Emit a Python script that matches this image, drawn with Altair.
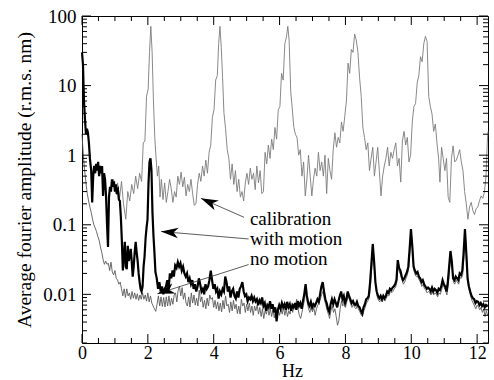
import math
import altair as alt
import pandas as pd

# ---------------- data ----------------
cal_hz = [
    0.90, 0.96, 1.02, 1.08, 1.14, 1.20, 1.26, 1.33, 1.39, 1.45,
    1.51, 1.57, 1.63, 1.69, 1.75, 1.81, 1.86, 1.91, 1.96, 2.01,
    2.05, 2.09, 2.13, 2.17, 2.21, 2.25, 2.29, 2.33, 2.37, 2.41,
    2.46, 2.51, 2.56, 2.61, 2.66, 2.71, 2.76, 2.81, 2.86, 2.91,
    2.96, 3.01, 3.06, 3.11, 3.16, 3.21, 3.26, 3.31, 3.36, 3.41,
    3.46, 3.51, 3.56, 3.61, 3.66, 3.71, 3.76, 3.81, 3.86, 3.91,
    3.96, 4.01, 4.06, 4.11, 4.15, 4.19, 4.23, 4.27, 4.31, 4.36,
    4.41, 4.46, 4.51, 4.56, 4.61, 4.66, 4.71, 4.76, 4.81, 4.86,
    4.91, 4.96, 5.01, 5.06, 5.11, 5.16, 5.21, 5.26, 5.31, 5.36,
    5.41, 5.46, 5.51, 5.56, 5.61, 5.66, 5.71, 5.76, 5.81, 5.86,
    5.91, 5.96, 6.01, 6.06, 6.11, 6.16, 6.21, 6.25, 6.29, 6.34,
    6.38, 6.43, 6.48, 6.53, 6.58, 6.63, 6.68, 6.73, 6.78, 6.83,
    6.88, 6.93, 6.98, 7.03, 7.08, 7.13, 7.18, 7.23, 7.28, 7.33,
    7.38, 7.43, 7.48, 7.53, 7.58, 7.63, 7.68, 7.73, 7.78, 7.83,
    7.88, 7.93, 7.98, 8.03, 8.08, 8.13, 8.18, 8.23, 8.28, 8.33,
    8.38, 8.43, 8.48, 8.53, 8.58, 8.63, 8.68, 8.73, 8.78, 8.83,
    8.88, 8.93, 8.98, 9.03, 9.08, 9.13, 9.18, 9.23, 9.28, 9.33,
    9.38, 9.43, 9.48, 9.53, 9.58, 9.63, 9.68, 9.73, 9.78, 9.83,
    9.88, 9.93, 9.98, 10.03, 10.08, 10.13, 10.18, 10.23, 10.28, 10.33,
    10.38, 10.43, 10.48, 10.53, 10.58, 10.63, 10.68, 10.73, 10.78, 10.83,
    10.87, 10.92, 10.97, 11.02, 11.07, 11.12, 11.17, 11.22, 11.27, 11.32,
    11.37, 11.42, 11.47, 11.52, 11.57, 11.62, 11.67, 11.72, 11.77, 11.82,
    11.87, 11.92, 11.97, 12.02, 12.07, 12.12, 12.17, 12.22, 12.27, 12.31,
    12.33,
]
cal_amp = [
    0.35, 0.45, 0.28, 0.40, 0.24, 0.42, 0.20, 0.12, 0.30, 0.22,
    0.38, 0.28, 0.50, 0.33, 0.55, 0.42, 1.5, 1.6, 7, 9,
    30, 71, 30, 6, 1.8, 0.9, 0.5, 0.7, 0.25, 0.45,
    0.23, 0.40, 0.21, 0.30, 0.45, 0.33, 0.21, 0.30, 0.25, 0.50,
    0.38, 0.57, 0.35, 0.48, 0.26, 0.38, 0.30, 0.45, 0.28, 0.19,
    0.20, 0.38, 0.55, 0.42, 0.70, 0.50, 0.85, 0.55, 1.1, 1.4,
    3.5, 4.5, 12, 14, 40, 71, 35, 13, 4.1, 2.4,
    1.2, 0.9, 0.45, 0.75, 0.38, 0.60, 0.30, 0.45, 0.25, 0.30,
    0.22, 0.40, 0.55, 0.38, 0.65, 0.45, 0.55, 0.32, 0.70, 0.40,
    0.60, 0.28, 0.30, 1.1, 0.75, 1.4, 0.9, 1.7, 1.2, 2.5,
    1.7, 4.5, 5, 15, 12, 40, 50, 71, 45, 8,
    5, 2.6, 2.0, 1.8, 1.0, 1.2, 0.5, 0.8, 0.26, 0.45,
    1.0, 0.5, 0.26, 0.45, 0.65, 0.5, 1.1, 0.6, 0.8, 0.5,
    1.0, 0.28, 0.9, 0.6, 0.45, 1.2, 2.1, 1.3, 1.8, 1.5,
    3.0, 2.2, 3.6, 6, 21, 15, 33, 30, 55, 45,
    30, 13, 7, 2.5, 1.8, 1.2, 1.5, 0.6, 0.9, 1.3,
    0.5, 0.8, 1.3, 0.6, 0.26, 0.5, 0.7, 0.9, 1.3, 0.7,
    1.1, 0.9, 1.2, 1.5, 0.7, 0.9, 0.41, 1.6, 2.2, 1.4,
    1.8, 0.8, 1.0, 3, 5, 5.5, 11, 14, 26, 22,
    40, 51, 43, 7, 5, 3.9, 2.2, 2.8, 1.5, 0.9,
    0.41, 1.3, 0.9, 0.6, 0.9, 0.25, 0.21, 0.9, 1.36, 0.8,
    0.85, 1.0, 1.2, 0.8, 0.6, 0.3, 0.2, 0.12, 0.18, 0.21,
    0.16, 0.14, 0.17, 0.18, 0.22, 0.26, 0.24, 0.29, 0.5, 1.6,
    2.2,
]

# "with motion": irregular low-frequency part, then a 0.04 Hz grid from 2.27 Hz
wm_hz_low = [
    0.00, 0.03, 0.06, 0.09, 0.12, 0.15, 0.18, 0.21, 0.24, 0.28,
    0.31, 0.34, 0.37, 0.40, 0.43, 0.46, 0.49, 0.52, 0.55, 0.58,
    0.61, 0.64, 0.67, 0.70, 0.73, 0.76, 0.79, 0.82, 0.85, 0.88,
    0.91, 0.94, 0.97, 1.00, 1.03, 1.06, 1.09, 1.12, 1.15, 1.18,
    1.21, 1.24, 1.27, 1.30, 1.33, 1.36, 1.39, 1.42, 1.45, 1.48,
    1.51, 1.54, 1.57, 1.60, 1.63, 1.66, 1.69, 1.72, 1.75, 1.78,
    1.81, 1.84, 1.87, 1.90, 1.93, 1.96, 1.99, 2.02, 2.05, 2.08,
    2.11, 2.14, 2.17, 2.20, 2.23,
]
wm_amp_low = [
    30, 20, 6, 3.3, 2.0, 2.4, 2.1, 1.5, 0.9, 0.6,
    0.21, 0.5, 0.7, 0.55, 0.75, 0.6, 0.8, 0.5, 0.7, 0.55,
    0.7, 0.26, 0.55, 0.45, 0.26, 0.1, 0.048, 0.25, 0.35, 0.3,
    0.45, 0.35, 0.42, 0.3, 0.38, 0.3, 0.32, 0.23, 0.22, 0.13,
    0.06, 0.022, 0.035, 0.057, 0.025, 0.023, 0.05, 0.03, 0.036, 0.045,
    0.03, 0.018, 0.025, 0.04, 0.057, 0.04, 0.03, 0.02, 0.015, 0.012,
    0.011, 0.013, 0.025, 0.035, 0.063, 0.09, 0.12, 0.4, 0.8, 0.9,
    0.6, 0.15, 0.07, 0.04, 0.021,
]
wm_grid_start = 2.27
wm_grid_step = 0.04
wm_amp_grid = [
    0.017, 0.012, 0.015, 0.011, 0.013, 0.010, 0.012, 0.013, 0.016, 0.012,
    0.020, 0.017, 0.022, 0.018, 0.026, 0.024, 0.029, 0.025, 0.028, 0.022,
    0.025, 0.020, 0.018, 0.020, 0.015, 0.017, 0.014, 0.016, 0.012, 0.014,
    0.011, 0.013, 0.017, 0.014, 0.011, 0.012, 0.010, 0.014, 0.012, 0.013,
    0.016, 0.022, 0.016, 0.012, 0.014, 0.011, 0.012, 0.0087, 0.011, 0.010,
    0.012, 0.011, 0.018, 0.015, 0.011, 0.013, 0.009, 0.011, 0.012, 0.0095,
    0.0087, 0.011, 0.009, 0.012, 0.013, 0.015, 0.011, 0.0095, 0.010, 0.008,
    0.009, 0.0085, 0.0095, 0.008, 0.009, 0.0079, 0.0085, 0.007, 0.0082, 0.0075,
    0.009, 0.0068, 0.0075, 0.0058, 0.007, 0.0065, 0.008, 0.0062, 0.0072, 0.0055,
    0.0065, 0.0041, 0.006, 0.007, 0.0062, 0.0075, 0.0065, 0.0072, 0.006, 0.0078,
    0.0065, 0.0072, 0.0058, 0.007, 0.0065, 0.0075, 0.006, 0.008, 0.0068, 0.0075,
    0.0062, 0.008, 0.010, 0.014, 0.0095, 0.0075, 0.0068, 0.0078, 0.0065, 0.0072,
    0.0068, 0.0075, 0.0085, 0.0078, 0.010, 0.013, 0.015, 0.011, 0.0085, 0.0075,
    0.0062, 0.0056, 0.0072, 0.0085, 0.0072, 0.0085, 0.0075, 0.0065, 0.008, 0.0095,
    0.011, 0.0085, 0.0095, 0.0075, 0.0085, 0.011, 0.0095, 0.0085, 0.0075, 0.008,
    0.0072, 0.007, 0.0078, 0.0068, 0.0065, 0.0058, 0.0053, 0.0065, 0.0072, 0.0085,
    0.0088, 0.0095, 0.015, 0.028, 0.053, 0.030, 0.015, 0.011, 0.0095, 0.0088,
    0.0095, 0.0085, 0.0095, 0.0088, 0.0095, 0.011, 0.0105, 0.012, 0.0115, 0.0125,
    0.013, 0.014, 0.016, 0.031, 0.024, 0.022, 0.018, 0.016, 0.017, 0.019,
    0.021, 0.025, 0.045, 0.087, 0.050, 0.025, 0.022, 0.020, 0.021, 0.018,
    0.017, 0.015, 0.016, 0.014, 0.013, 0.012, 0.0125, 0.012, 0.011, 0.0125,
    0.011, 0.012, 0.0115, 0.0105, 0.012, 0.0115, 0.013, 0.016, 0.014, 0.013,
    0.011, 0.015, 0.025, 0.042, 0.030, 0.017, 0.016, 0.018, 0.017, 0.016,
    0.020, 0.019, 0.022, 0.040, 0.087, 0.040, 0.017, 0.013, 0.011, 0.0095,
    0.0088, 0.0085, 0.0075, 0.008, 0.0078, 0.007, 0.0075, 0.0068, 0.0072, 0.0065,
    0.007, 0.0066,
]

# "no motion": 0.04 Hz grid from 0 Hz
nm_grid_start = 0.0
nm_grid_step = 0.04
nm_amp = [
    2.0, 1.0, 0.6, 0.4, 0.28, 0.22, 0.18, 0.15, 0.12, 0.10,
    0.09, 0.08, 0.068, 0.06, 0.048, 0.04, 0.032, 0.027, 0.03, 0.027,
    0.028, 0.022, 0.029, 0.021, 0.019, 0.022, 0.017, 0.016, 0.014, 0.015,
    0.012, 0.0095, 0.012, 0.009, 0.012, 0.0095, 0.0105, 0.0085, 0.011, 0.0088,
    0.0105, 0.0085, 0.0102, 0.0082, 0.0098, 0.0085, 0.0105, 0.0085, 0.0098, 0.008,
    0.0105, 0.0078, 0.0095, 0.0075, 0.0068, 0.0062, 0.0057, 0.0072, 0.0095, 0.0068,
    0.0092, 0.0067, 0.009, 0.0066, 0.0092, 0.0068, 0.0095, 0.0069, 0.0088, 0.0072,
    0.0098, 0.0105, 0.0078, 0.0115, 0.013, 0.0095, 0.0125, 0.0085, 0.0105, 0.0075,
    0.0068, 0.0092, 0.0066, 0.0105, 0.0075, 0.0098, 0.007, 0.0088, 0.0068, 0.0115,
    0.0078, 0.0092, 0.0065, 0.0082, 0.0062, 0.0088, 0.0068, 0.0098, 0.0085, 0.009,
    0.0065, 0.0082, 0.0062, 0.0078, 0.0058, 0.0075, 0.0056, 0.0082, 0.0062, 0.0095,
    0.0068, 0.0072, 0.0055, 0.0078, 0.0058, 0.0082, 0.0062, 0.0072, 0.0053, 0.0068,
    0.0052, 0.0085, 0.0068, 0.0075, 0.0055, 0.0072, 0.0058, 0.0075, 0.0055, 0.0068,
    0.005, 0.0068, 0.0058, 0.007, 0.0052, 0.0065, 0.0048, 0.0062, 0.0045, 0.0058,
    0.0052, 0.0065, 0.005, 0.0062, 0.0048, 0.006, 0.0046, 0.0056, 0.0048, 0.0058,
    0.005, 0.0062, 0.0052, 0.0065, 0.005, 0.0062, 0.0048, 0.0058, 0.0052, 0.0065,
    0.0055, 0.0072, 0.0068, 0.0085, 0.0062, 0.005, 0.0045, 0.0055, 0.0068, 0.0085,
    0.011, 0.0078, 0.0062, 0.0055, 0.0068, 0.0056, 0.0065, 0.005, 0.0062, 0.007,
    0.0075, 0.0085, 0.010, 0.011, 0.0085, 0.0072, 0.006, 0.0052, 0.0045, 0.0058,
    0.0068, 0.0055, 0.0062, 0.0048, 0.0036, 0.0042, 0.0062, 0.008, 0.0068, 0.0085,
    0.0065, 0.0078, 0.0092, 0.0085, 0.0072, 0.0065, 0.0072, 0.0065, 0.0062, 0.0068,
    0.006, 0.0056, 0.005, 0.0048, 0.0058, 0.0065, 0.0075, 0.008, 0.0088, 0.013,
    0.024, 0.045, 0.026, 0.013, 0.0095, 0.0082, 0.0078, 0.0085, 0.0078, 0.0088,
    0.008, 0.0088, 0.0098, 0.0095, 0.011, 0.0105, 0.011, 0.012, 0.0125, 0.015,
    0.027, 0.021, 0.019, 0.016, 0.014, 0.015, 0.017, 0.019, 0.023, 0.042,
    0.075, 0.045, 0.022, 0.019, 0.018, 0.018, 0.016, 0.015, 0.013, 0.014,
    0.012, 0.0115, 0.0105, 0.011, 0.0105, 0.0098, 0.011, 0.0098, 0.0105, 0.010,
    0.0092, 0.0105, 0.010, 0.0115, 0.014, 0.0125, 0.0115, 0.0098, 0.013, 0.022,
    0.037, 0.026, 0.015, 0.014, 0.016, 0.015, 0.014, 0.0175, 0.017, 0.019,
    0.035, 0.075, 0.035, 0.015, 0.0115, 0.0095, 0.0082, 0.0075, 0.0068, 0.0062,
    0.007, 0.0066, 0.006, 0.0065, 0.0055, 0.0062, 0.0048, 0.0058, 0.005,
]

# annotations
ann_labels = ["calibration", "with motion", "no motion"]
ann_text_hz = [5.10, 5.10, 5.10]
ann_text_amp = [0.100, 0.052, 0.0268]
ann_tail_hz = [4.92, 5.06, 5.06]
ann_tail_amp = [0.128, 0.0625, 0.0268]
ann_tip_hz = [3.61, 2.40, 2.29]
ann_tip_amp = [0.24, 0.080, 0.0102]

# axis ticks
x_major = [0, 2, 4, 6, 8, 10, 12]
x_minor = [0.5, 1, 1.5, 2.5, 3, 3.5, 4.5, 5, 5.5, 6.5, 7, 7.5, 8.5, 9, 9.5,
           10.5, 11, 11.5]
y_major = [0.01, 0.1, 1, 10, 100]
y_minor = [0.002, 0.003, 0.004, 0.005, 0.006, 0.007, 0.008, 0.009,
           0.02, 0.03, 0.04, 0.05, 0.06, 0.07, 0.08, 0.09,
           0.2, 0.3, 0.4, 0.5, 0.6, 0.7, 0.8, 0.9,
           2, 3, 4, 5, 6, 7, 8, 9,
           20, 30, 40, 50, 60, 70, 80, 90]

# ---------------- chart ----------------
W, H = 406, 327
X_DOMAIN = [0, 12.33]
Y_DOMAIN = [0.002, 100]
FONT = "Liberation Serif"

xs = alt.Scale(domain=X_DOMAIN, nice=False, zero=False)
ys = alt.Scale(type="log", domain=Y_DOMAIN, nice=False)

wm_hz = wm_hz_low + [round(wm_grid_start + wm_grid_step * i, 2) for i in range(len(wm_amp_grid))]
wm_amp = wm_amp_low + wm_amp_grid
nm_hz = [round(nm_grid_start + nm_grid_step * i, 2) for i in range(len(nm_amp))]

cal_df = pd.DataFrame({"hz": cal_hz, "amp": cal_amp})
wm_df = pd.DataFrame({"hz": wm_hz, "amp": wm_amp})
nm_df = pd.DataFrame({"hz": nm_hz, "amp": nm_amp})


def px(hz):
    return (hz - X_DOMAIN[0]) / (X_DOMAIN[1] - X_DOMAIN[0]) * W


def py(a):
    l0, l1 = math.log10(Y_DOMAIN[0]), math.log10(Y_DOMAIN[1])
    return H * (1 - (math.log10(a) - l0) / (l1 - l0))


angles = [math.degrees(math.atan2(py(ty) - py(sy), px(tx) - px(sx))) % 360
          for sx, sy, tx, ty in zip(ann_tail_hz, ann_tail_amp, ann_tip_hz, ann_tip_amp)]

ann_df = pd.DataFrame({
    "label": ann_labels, "thz": ann_text_hz, "tamp": ann_text_amp,
    "shz": ann_tail_hz, "samp": ann_tail_amp,
    "hhz": ann_tip_hz, "hamp": ann_tip_amp, "ang": angles,
})

x_axis = alt.Axis(values=x_major, ticks=False, domain=False, grid=False,
                  labelFont=FONT, labelFontSize=18, labelColor="black",
                  labelPadding=1, labelFlush=False, format="d",
                  title="Hz", titleFont=FONT, titleFontSize=18,
                  titleFontWeight="normal", titleColor="black", titlePadding=0,
                  titleX=210, titleAlign="center")
y_axis = alt.Axis(values=y_major, ticks=False, domain=False, grid=False,
                  labelFont=FONT, labelFontSize=19, labelColor="black",
                  labelPadding=6, labelFlush=False, format="~g",
                  title="Average fourier amplitude (r.m.s. nm)",
                  titleFont=FONT, titleFontSize=19.5, titleFontWeight="normal",
                  titleColor="black", titlePadding=8)


def X(field):
    return alt.X(field, scale=xs, axis=x_axis)


def Y(field):
    return alt.Y(field, scale=ys, axis=y_axis)


cal_line = alt.Chart(cal_df).mark_line(color="#7c7c7c", strokeWidth=0.9).encode(
    x=X("hz:Q"), y=Y("amp:Q"))
nm_line = alt.Chart(nm_df).mark_line(color="#5a5a5a", strokeWidth=0.9).encode(
    x=X("hz:Q"), y=Y("amp:Q"))
wm_line = alt.Chart(wm_df).mark_line(color="black", strokeWidth=2.2).encode(
    x=X("hz:Q"), y=Y("amp:Q"))


def x_ticks(vals, length, top):
    df = pd.DataFrame({"hz": vals})
    y0, y1 = (0, length) if top else (H, H - length)
    return alt.Chart(df).mark_rule(color="black", strokeWidth=1).encode(
        x=X("hz:Q"), y=alt.value(y0), y2=alt.value(y1))


def y_ticks(vals, length, right):
    df = pd.DataFrame({"amp": vals})
    x0, x1 = (W, W - length) if right else (0, length)
    return alt.Chart(df).mark_rule(color="black", strokeWidth=1).encode(
        y=Y("amp:Q"), x=alt.value(x0), x2=alt.value(x1))


ticks = [
    x_ticks(x_major, 9, False), x_ticks(x_minor, 5, False),
    x_ticks(x_major, 9, True), x_ticks(x_minor, 5, True),
    y_ticks(y_major, 9, False), y_ticks(y_minor, 5, False),
    y_ticks(y_major, 9, True), y_ticks(y_minor, 5, True),
]

arrow_lines = alt.Chart(ann_df).mark_rule(color="#333333", strokeWidth=0.8).encode(
    x=X("shz:Q"), x2="hhz:Q", y=Y("samp:Q"), y2="hamp:Q")
ARROW = "M0,0 L-2,-0.62 L-1.45,0 L-2,0.62 Z"
arrow_heads = alt.Chart(ann_df).mark_point(
    shape=ARROW, filled=True, color="black", opacity=1, size=300, strokeWidth=0
).encode(
    x=X("hhz:Q"), y=Y("hamp:Q"),
    angle=alt.Angle("ang:Q", scale=None),
)
ann_text = alt.Chart(ann_df).mark_text(
    align="left", baseline="alphabetic", font=FONT, fontSize=19, color="black"
).encode(
    x=X("thz:Q"), y=Y("tamp:Q"), text="label:N",
)

chart = alt.layer(
    cal_line, nm_line, wm_line, *ticks, arrow_lines, arrow_heads, ann_text
).properties(
    width=W, height=H,
    padding={"left": 82, "top": 16, "right": 6, "bottom": 37},
    autosize=alt.AutoSizeParams(type="none"),
    background="white",
).configure_view(stroke="black", strokeWidth=1)

chart.save("out.html", embed_options={"renderer": "svg", "actions": False})
